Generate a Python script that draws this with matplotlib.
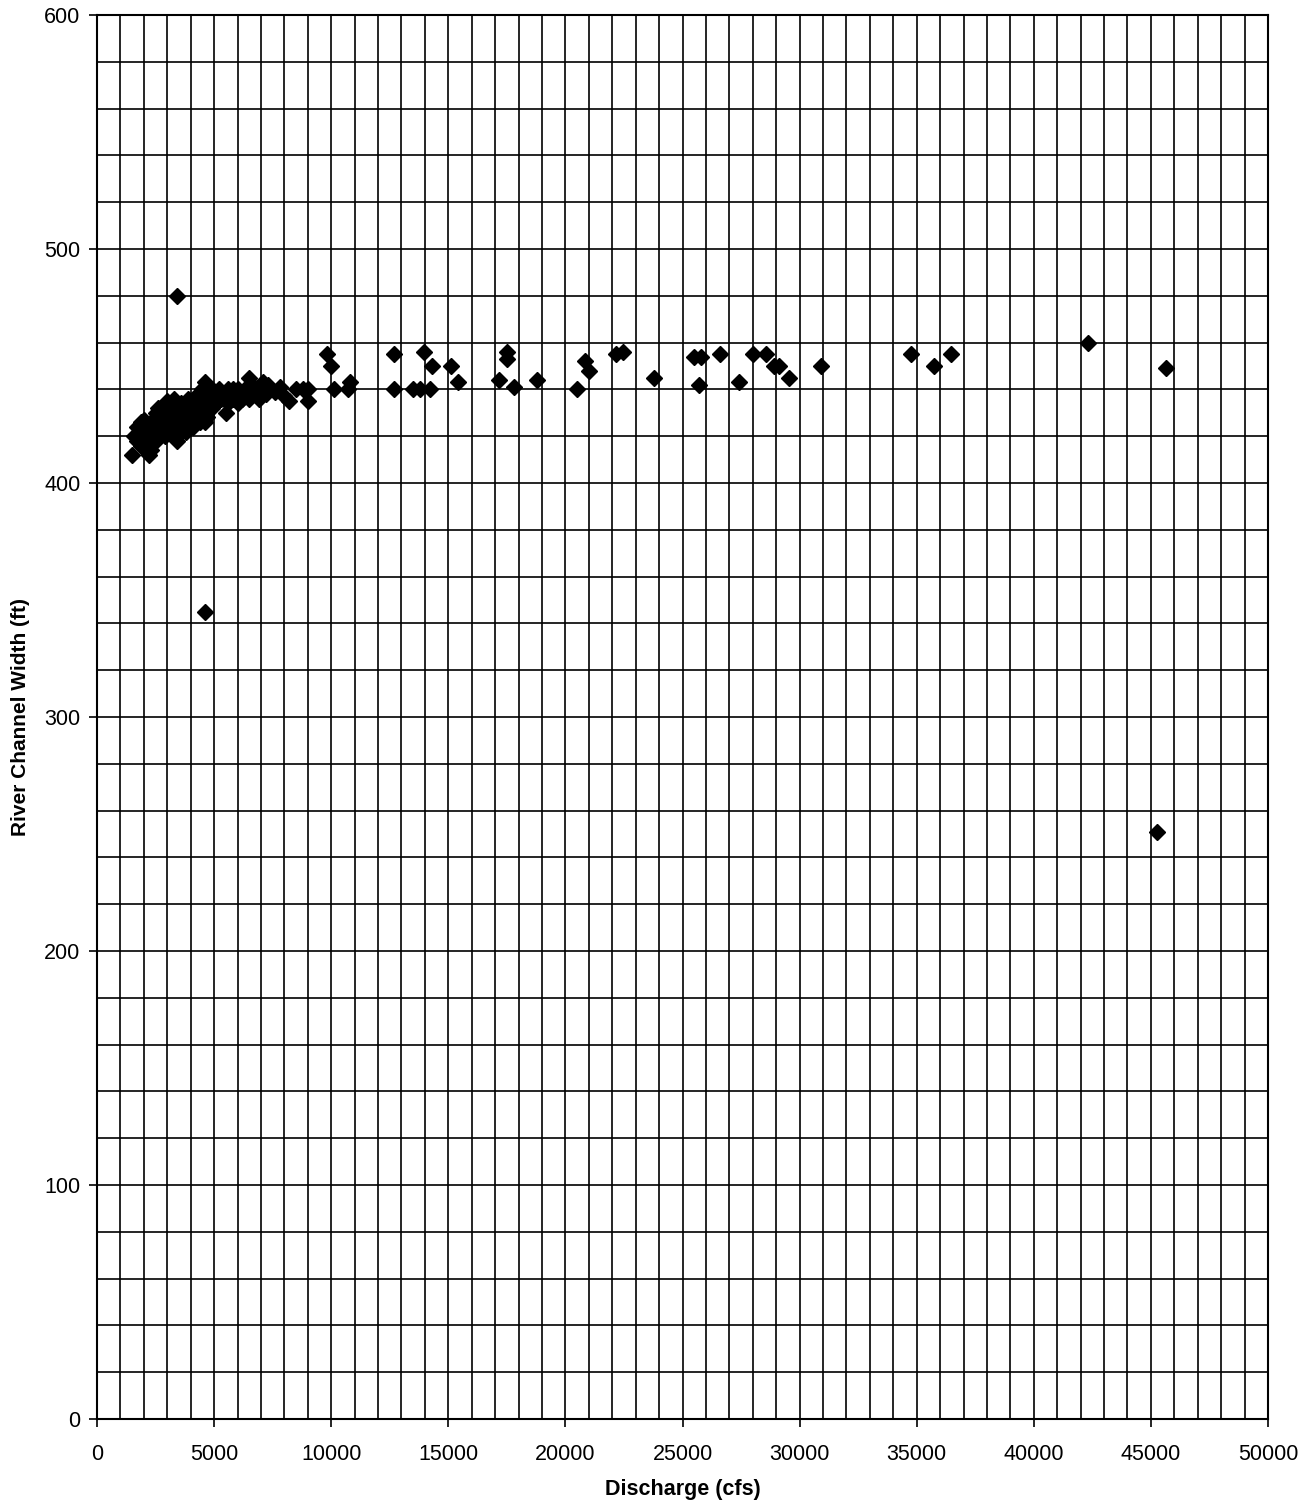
import matplotlib
matplotlib.use("Agg")
import matplotlib.pyplot as plt
from matplotlib.ticker import MultipleLocator

# Данные: расход (cfs) и ширина русла (ft)
# плотное скопление точек при малых расходах
cluster_q = [1500, 1600, 1700, 1800, 1900, 1700, 2000, 1900, 2100, 2200, 2300, 2100, 2000,
             2200, 2300, 2400, 2500, 2600, 2500, 2700, 2800, 2900, 2600, 2700, 3000, 3000,
             2900, 2800, 3100, 3200, 3100, 3300, 3400, 3400, 3300, 3500, 3600, 3600, 3700,
             3800, 3800, 3900, 3900, 4000, 4100, 4200, 4100, 4300, 4300, 4400, 4400, 4500,
             4500, 4600, 4600, 4700, 4700, 4800, 4900, 4900, 5000, 5100, 5200, 5300, 5400,
             5500, 5600, 5600, 5800, 5800, 5900, 6000, 6000, 6100, 6200, 6300, 6400, 6500,
             6500, 6600, 6700, 6800, 6900, 7000, 7100, 7200, 7300, 7400, 7600, 7800, 8000,
             8200, 8500, 8800, 9000, 9000, 4200, 4600, 3400]
cluster_w = [412, 420, 418, 422, 416, 424, 420, 426, 418, 412, 414, 424, 427,
             422, 426, 420, 430, 424, 418, 428, 422, 426, 432, 420, 430, 435,
             420, 430, 428, 424, 422, 432, 426, 420, 436, 430, 434, 424, 428,
             432, 422, 436, 426, 430, 434, 428, 424, 438, 432, 426, 436, 440,
             430, 443, 434, 438, 428, 436, 440, 432, 438, 434, 440, 436, 438,
             430, 440, 434, 436, 440, 438, 434, 440, 438, 436, 440, 438, 445,
             436, 442, 438, 440, 436, 440, 443, 438, 442, 440, 439, 441, 437,
             435, 440, 440, 440, 435, 425, 426, 418]

# отдельные точки при больших расходах
high_q = [9800, 10000, 10100, 10700, 10800, 12700, 12700, 13500, 13800, 14200, 13950,
          14300, 15100, 15400, 17150, 17500, 17500, 17800, 18800, 20500, 20850, 21000,
          22150, 22450, 23800, 25500, 25800, 25700, 26600, 27400, 28000, 28550, 28900,
          29100, 29550, 30900, 34750, 35750, 36450, 42300, 45650]
high_w = [455, 450, 440, 440, 443, 455, 440, 440, 440, 440, 456,
          450, 450, 443, 444, 456, 453, 441, 444, 440, 452, 448,
          455, 456, 445, 454, 454, 442, 455, 443, 455, 455, 450,
          450, 445, 450, 455, 450, 455, 460, 449]

# выбросы
outlier_q = [3400, 4600, 45250]
outlier_w = [480, 345, 251]

fig = plt.figure(figsize=(13.12, 15.03), dpi=100)
ax = fig.add_axes([97 / 1312, 84 / 1503, 1171 / 1312, 1404 / 1503])

q = cluster_q + high_q + outlier_q
w = cluster_w + high_w + outlier_w
ax.plot(q, w, linestyle='none', marker='D', markersize=8, color='black')

ax.set_xlim(0, 50000)
ax.set_ylim(0, 600)
ax.xaxis.set_major_locator(MultipleLocator(5000))
ax.xaxis.set_minor_locator(MultipleLocator(1000))
ax.yaxis.set_major_locator(MultipleLocator(100))
ax.yaxis.set_minor_locator(MultipleLocator(20))
ax.grid(True, which='both', color='black', linewidth=1.2)
ax.set_axisbelow(True)
ax.tick_params(which='major', direction='out', length=6, width=1.2, labelsize=15.5)
ax.tick_params(axis='x', pad=12)
ax.tick_params(axis='y', pad=6)
ax.tick_params(which='minor', length=0)
for lbl in ax.get_xticklabels() + ax.get_yticklabels():
    lbl.set_family('Liberation Sans')
for s in ax.spines.values():
    s.set_linewidth(1.5)
    s.set_color('black')

ax.set_xlabel('Discharge (cfs)', fontsize=15.5, fontweight='bold', family='Liberation Sans', labelpad=10)
ax.set_ylabel('River Channel Width (ft)', fontsize=15, fontweight='bold', family='Liberation Sans', labelpad=10)

fig.savefig('out.png', dpi=100)
